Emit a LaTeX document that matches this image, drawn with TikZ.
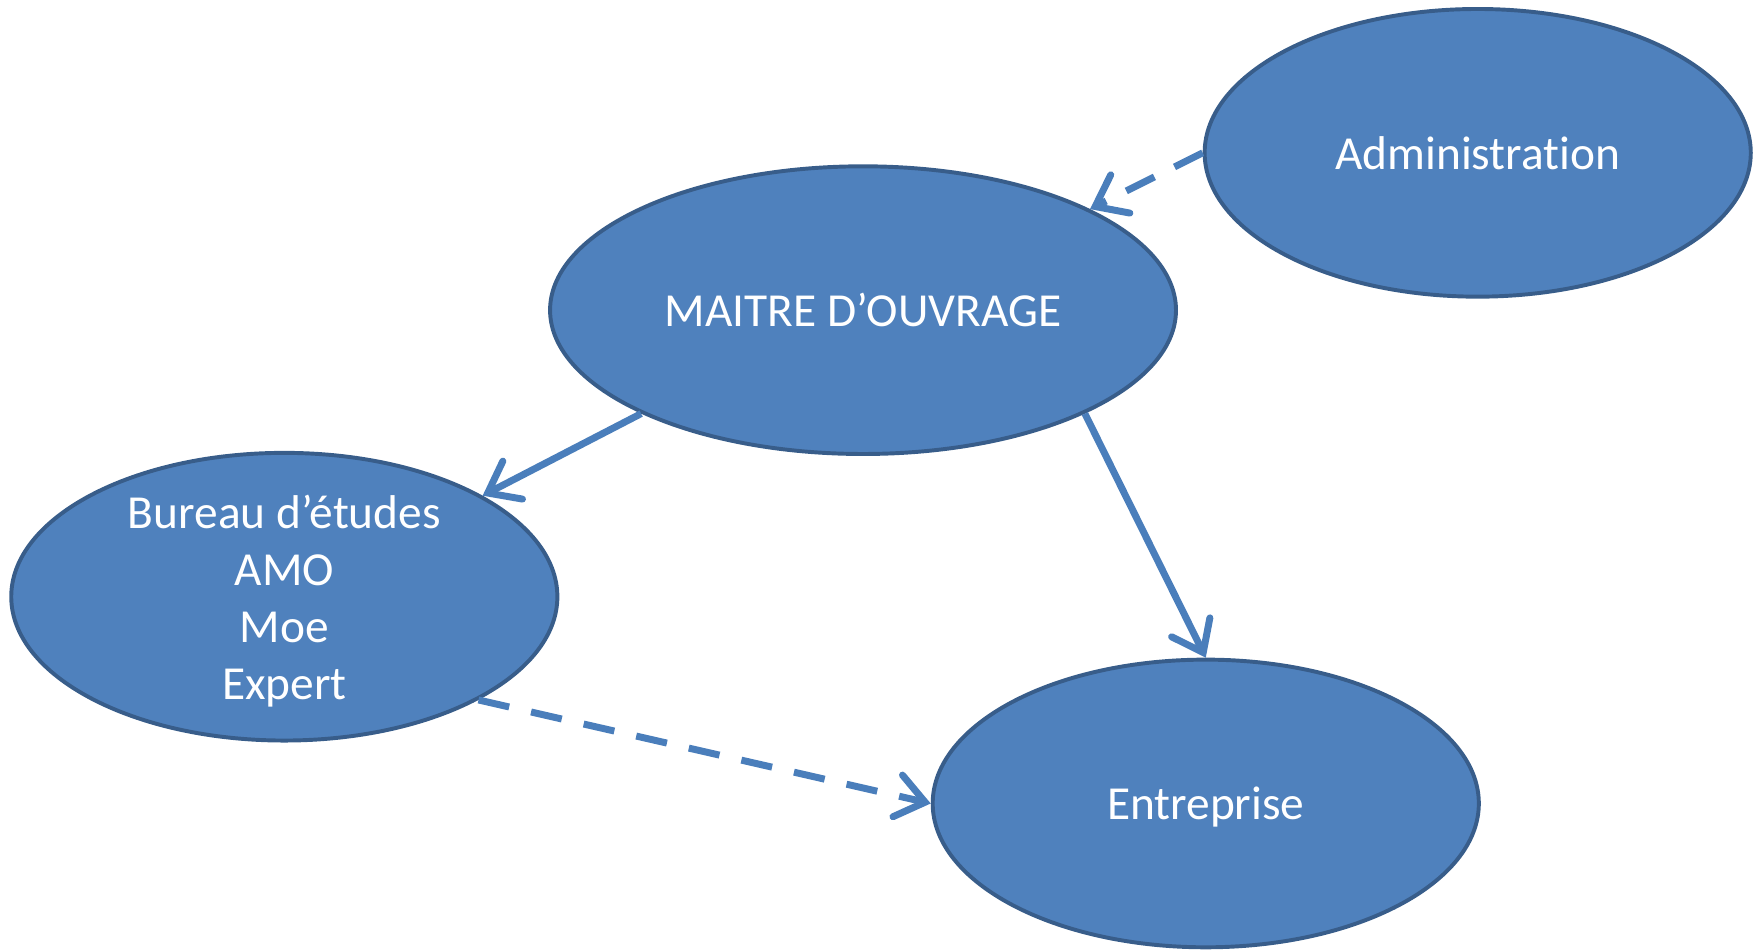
\documentclass[tikz,border=0pt]{standalone}
\usepackage{fontspec}
\setmainfont{Carlito}[Ligatures=NoCommon]
\usepackage{tikz}
\usetikzlibrary{arrows.meta,shapes.geometric}
\definecolor{boxfill}{HTML}{4F81BD}
\definecolor{boxline}{HTML}{385D8A}
\definecolor{linkcol}{HTML}{4A7EBB}
\begin{document}
\begin{tikzpicture}[>={Straight Barb[length=0.25cm,width=0.38cm,line cap=round]},
                    main node/.style={ellipse,draw=boxline,fill=boxfill,line width=0.035cm,
                      inner sep=0pt,minimum height=2.56cm},
                    txt/.style={text=white,font=\fontsize{12}{14.5}\selectfont,align=center},
                    link/.style={->,draw=linkcol,line width=0.062cm},
                    dash link/.style={link,dash pattern=on 0.28cm off 0.2cm}]
  \useasboundingbox (0,0) rectangle (15.68,8.45);

  \node[main node,minimum width=4.86cm,label={[txt]center:Administration}] (adm) at (13.15,7.09) {};
  \node[main node,minimum width=5.57cm,label={[txt]center:MAITRE D’OUVRAGE}] (mo) at (7.68,5.69) {};
  \node[main node,minimum width=4.86cm,
        label={[txt,yshift=-0.04cm]center:Bureau d’études\\AMO\\Moe\\Expert}] (be) at (2.53,3.14) {};
  \node[main node,minimum width=4.86cm,label={[txt,yshift=-0.03cm]center:Entreprise}] (ent) at (10.73,1.30) {};

  \path
    (adm.west) edge [dash link] (mo.24)
    (mo.205) edge [link] (be.27)
    (mo.-25) edge [link] (ent.north)
    (be.-28) edge [dash link] (ent.west);

\end{tikzpicture}
\end{document}
